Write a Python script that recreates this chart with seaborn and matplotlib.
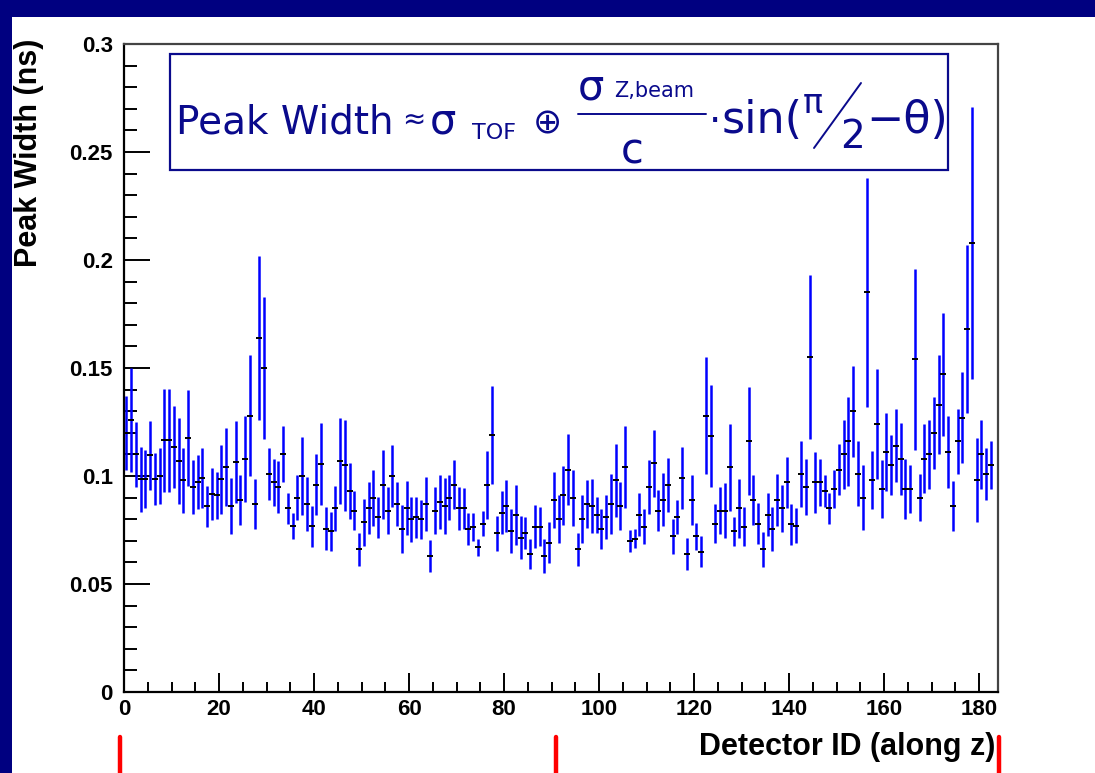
import numpy as np
import pandas as pd
import matplotlib
matplotlib.use("Agg")
import matplotlib.pyplot as plt
import seaborn as sns
from matplotlib.patches import Rectangle
from matplotlib.lines import Line2D

# ---------------- data ----------------
detector_ids = list(range(183))
peak_width = [
    0.120, 0.126, 0.110, 0.0985, 0.0985, 0.1096, 0.0985, 0.100, 0.1165, 0.1165,
    0.1134, 0.107, 0.098, 0.1176, 0.095, 0.097, 0.099, 0.086, 0.0918, 0.091,
    0.0985, 0.104, 0.086, 0.1065, 0.089, 0.108, 0.128, 0.087, 0.164, 0.150,
    0.101, 0.097, 0.095, 0.110, 0.085, 0.0767, 0.090, 0.100, 0.087, 0.0767,
    0.096, 0.1054, 0.0756, 0.0745, 0.085, 0.107, 0.105, 0.093, 0.084, 0.066,
    0.0785, 0.085, 0.090, 0.081, 0.096, 0.084, 0.100, 0.087, 0.0755, 0.085,
    0.080, 0.081, 0.080, 0.087, 0.063, 0.084, 0.088, 0.086, 0.090, 0.096,
    0.085, 0.085, 0.0755, 0.0765, 0.067, 0.078, 0.096, 0.119, 0.0735, 0.083,
    0.086, 0.0745, 0.082, 0.0715, 0.0735, 0.064, 0.0765, 0.0765, 0.063, 0.069,
    0.089, 0.080, 0.091, 0.103, 0.090, 0.066, 0.080, 0.087, 0.086, 0.082,
    0.0755, 0.081, 0.087, 0.098, 0.086, 0.104, 0.070, 0.071, 0.082, 0.0765,
    0.095, 0.106, 0.084, 0.089, 0.096, 0.072, 0.081, 0.099, 0.064, 0.089,
    0.072, 0.065, 0.128, 0.1185, 0.078, 0.084, 0.084, 0.104, 0.0745, 0.085,
    0.0765, 0.116, 0.089, 0.078, 0.066, 0.082, 0.0755, 0.089, 0.085, 0.097,
    0.0776, 0.077, 0.101, 0.095, 0.155, 0.097, 0.097, 0.093, 0.085, 0.094,
    0.103, 0.110, 0.116, 0.130, 0.101, 0.090, 0.185, 0.098, 0.124, 0.094,
    0.111, 0.105, 0.114, 0.108, 0.094, 0.094, 0.154, 0.090, 0.108, 0.110,
    0.120, 0.133, 0.147, 0.111, 0.086, 0.116, 0.127, 0.168, 0.208, 0.098,
    0.110, 0.101, 0.105,
]
peak_width_err = [
    0.017, 0.024, 0.015, 0.015, 0.0135, 0.016, 0.012, 0.013, 0.024, 0.024,
    0.019, 0.020, 0.015, 0.022, 0.0125, 0.0125, 0.014, 0.0095, 0.012, 0.011,
    0.016, 0.018, 0.013, 0.019, 0.0115, 0.020, 0.028, 0.0115, 0.038, 0.033,
    0.012, 0.011, 0.012, 0.013, 0.007, 0.006, 0.0105, 0.018, 0.0125, 0.0095,
    0.014, 0.019, 0.010, 0.009, 0.0105, 0.020, 0.021, 0.013, 0.009, 0.0075,
    0.011, 0.012, 0.013, 0.0095, 0.016, 0.011, 0.0145, 0.010, 0.011, 0.0125,
    0.0105, 0.0095, 0.009, 0.0125, 0.0075, 0.011, 0.0125, 0.013, 0.0105, 0.0115,
    0.010, 0.0095, 0.0075, 0.0065, 0.004, 0.006, 0.0157, 0.0226, 0.008, 0.010,
    0.012, 0.010, 0.014, 0.010, 0.0075, 0.007, 0.010, 0.009, 0.0077, 0.0095,
    0.013, 0.011, 0.0135, 0.0166, 0.013, 0.0075, 0.011, 0.011, 0.0125, 0.0083,
    0.0094, 0.010, 0.014, 0.017, 0.011, 0.019, 0.005, 0.0044, 0.010, 0.008,
    0.0125, 0.0155, 0.0095, 0.0123, 0.0125, 0.008, 0.008, 0.0145, 0.0074, 0.0115,
    0.0064, 0.007, 0.027, 0.0235, 0.009, 0.011, 0.0127, 0.020, 0.0067, 0.0136,
    0.009, 0.025, 0.0115, 0.0095, 0.008, 0.010, 0.010, 0.012, 0.011, 0.0116,
    0.0096, 0.008, 0.0154, 0.013, 0.038, 0.014, 0.011, 0.0073, 0.0073, 0.009,
    0.012, 0.016, 0.0205, 0.021, 0.015, 0.015, 0.053, 0.0135, 0.0255, 0.0135,
    0.018, 0.014, 0.017, 0.0166, 0.014, 0.011, 0.042, 0.011, 0.016, 0.016,
    0.0166, 0.023, 0.0285, 0.0166, 0.0116, 0.015, 0.021, 0.039, 0.063, 0.0195,
    0.016, 0.012, 0.011,
]
x_major_ticks = [0, 20, 40, 60, 80, 100, 120, 140, 160, 180]
y_major_ticks = [0, 0.05, 0.1, 0.15, 0.2, 0.25, 0.3]
y_tick_labels = ["0", "0.05", "0.1", "0.15", "0.2", "0.25", "0.3"]

# ---------------- style ----------------
W, H = 1095, 773
NAVY = "#000080"
FCOL = "#0a0a8c"

sns.set_theme(style="white")
plt.rcParams["font.family"] = ["Liberation Sans", "DejaVu Sans"]
plt.rcParams.update({
    "xtick.bottom": True, "xtick.top": False,
    "ytick.left": True, "ytick.right": False,
    "xtick.direction": "in", "ytick.direction": "in",
    "xtick.major.size": 14, "xtick.minor.size": 7,
    "ytick.major.size": 19, "ytick.minor.size": 9.5,
    "xtick.major.width": 1.4, "xtick.minor.width": 1.4,
    "ytick.major.width": 1.4, "ytick.minor.width": 1.4,
    "xtick.color": "black", "ytick.color": "black",
    "xtick.minor.visible": True, "ytick.minor.visible": True,
})

fig = plt.figure(figsize=(W / 100, H / 100), dpi=100, facecolor=NAVY)
fig.patches.append(Rectangle((12 / W, 0), 1 - 12 / W, 1 - 17 / H,
                             transform=fig.transFigure, facecolor="white",
                             edgecolor="none", zorder=-5))

ax = fig.add_axes([124 / W, 1 - 692 / H, (998 - 124) / W, (692 - 44) / H])
ax.set_facecolor("white")
ax.set_zorder(2)

df = pd.DataFrame({
    "center": np.asarray(detector_ids) + 0.5,
    "width": peak_width,
    "err": peak_width_err,
})

ax.vlines(df["center"], df["width"] - df["err"], df["width"] + df["err"],
          color="#0000ff", lw=1.8, zorder=2)
sns.scatterplot(data=df, x="center", y="width", marker="_", s=20,
                color="black", linewidth=1.4, ax=ax, zorder=3, legend=False)

ax.set_xlim(0, 184)
ax.set_ylim(0, 0.3)
ax.set_xticks(x_major_ticks)
ax.set_xticklabels([str(t) for t in x_major_ticks], fontweight="bold")
ax.set_xticks(np.arange(0, 185, 5), minor=True)
ax.set_yticks(y_major_ticks)
ax.set_yticklabels(y_tick_labels, fontweight="bold")
ax.set_yticks(np.arange(0, 0.3001, 0.01), minor=True)

ax.tick_params(axis="x", which="major", direction="in", length=14, width=1.4,
               pad=5, labelsize=16, bottom=True, top=False, color="black",
               labelcolor="black")
ax.tick_params(axis="x", which="minor", direction="in", length=7, width=1.4,
               bottom=True, top=False, color="black")
ax.tick_params(axis="y", which="major", direction="in", length=19, width=1.4,
               pad=8, labelsize=16, left=True, right=False, color="black",
               labelcolor="black")
ax.tick_params(axis="y", which="minor", direction="in", length=9.5, width=1.4,
               left=True, right=False, color="black")
for sp in ax.spines.values():
    sp.set_color("black")
    sp.set_linewidth(1.6)
    sp.set_zorder(4)
ax.spines["top"].set_color("#444444")
ax.spines["right"].set_color("#444444")

ax.set_ylabel("Peak Width (ns)", fontsize=22, fontweight="bold", loc="top",
              color="black")
ax.yaxis.set_label_coords((44 - 124) / 874, 1.008)
ax.set_xlabel("Detector ID (along z)", fontsize=22, fontweight="bold",
              loc="right", color="black")
ax.xaxis.set_label_coords(0.997, -(732 - 692) / 648)

# red marker lines below the axis
for xp in [120, 556, 999]:
    fig.add_artist(Line2D([xp / W, xp / W], [1 - 737 / H, 0],
                          transform=fig.transFigure, color="#ff0000", lw=3.2,
                          zorder=5))

# ---------------- formula box ----------------
fig.add_artist(Rectangle((170 / W, 1 - 170 / H), (948 - 170) / W, (170 - 54) / H,
                         transform=fig.transFigure, facecolor="white",
                         edgecolor=FCOL, lw=1.6, zorder=5))


def ftext(xp, yp, s, size):
    fig.text(xp / W, 1 - yp / H, s, fontsize=size, color=FCOL,
             family="DejaVu Sans", ha="left", va="baseline", zorder=6)


ftext(176, 133, "Peak Width", 28)
ftext(402, 128, "\u2248", 20)
ftext(430, 133, "\u03c3", 30)
ftext(472, 139, "TOF", 16)
ftext(533, 133, "\u2295", 25)
ftext(578, 100, "\u03c3", 30)
ftext(614, 97, "Z,beam", 15)
fig.add_artist(Line2D([578 / W, 706 / W], [1 - 114 / H, 1 - 114 / H],
                      transform=fig.transFigure, color=FCOL, lw=1.4, zorder=6))
ftext(621, 163, "c", 30)
ftext(709, 133, "\u00b7", 28)
ftext(722, 133, "sin(", 32)
ftext(803, 113, "\u03c0", 24)
fig.add_artist(Line2D([814 / W, 861 / W], [1 - 148 / H, 1 - 83 / H],
                      transform=fig.transFigure, color=FCOL, lw=1.4, zorder=6))
ftext(840, 148, "2", 28)
ftext(866, 133, "\u2212\u03b8)", 32)

fig.savefig("out.png", dpi=100, facecolor=fig.get_facecolor())
